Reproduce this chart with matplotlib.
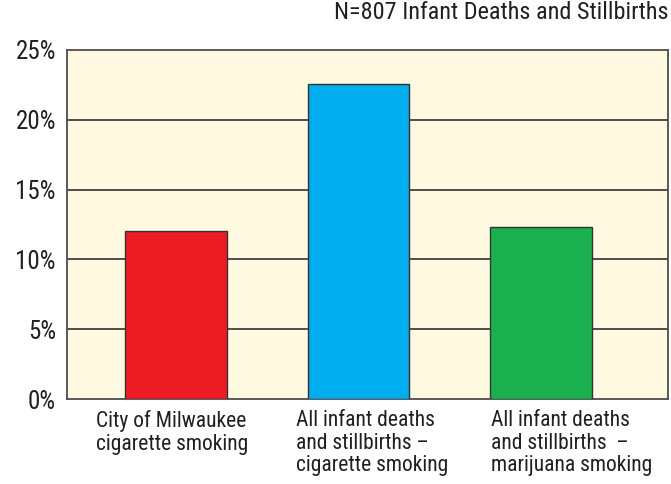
import matplotlib.pyplot as plt

plt.rcParams['font.family'] = ['Roboto Condensed', 'Archivo Narrow',
                               'Liberation Sans Narrow', 'DejaVu Sans']

categories = ['City of Milwaukee\ncigarette smoking',
              'All infant deaths\nand stillbirths \u2013\ncigarette smoking',
              'All infant deaths\nand stillbirths  \u2013\nmarijuana smoking']
percent = [12.0, 22.6, 12.3]
bar_colors = ['#ed1c24', '#00aeef', '#1bb04f']
yticks = [0, 5, 10, 15, 20, 25]
title = 'N=807 Infant Deaths and Stillbirths'

fig = plt.figure(figsize=(6.71, 4.84), dpi=100)
ax = fig.add_axes([0.0999, 0.1756, 0.8956, 0.7211])
ax.set_facecolor('#fef9e0')

x = list(range(len(percent)))
ax.bar(x, percent, width=0.555, color=bar_colors, edgecolor='#333333',
       linewidth=1.0, zorder=3)

ax.set_ylim(0, 25)
ax.set_xlim(-0.597, 2.696)
ax.set_yticks(yticks)
ax.set_yticklabels([f'{v}%' for v in yticks], fontsize=18, color='#231f20')
ax.tick_params(axis='y', length=0, pad=8)
ax.set_xticks([])
for v in yticks[1:-1]:
    ax.axhline(v, color='#231f20', lw=1.1, zorder=1)
for s in ax.spines.values():
    s.set_color('#4d4d4d')
    s.set_linewidth(1.3)

# category labels sit left-aligned under each bar
label_x = [-0.44, 0.658, 1.725]
for lx, lab in zip(label_x, categories):
    ax.text(lx, -0.8, lab, ha='left', va='top', fontsize=15.5,
            color='#231f20', linespacing=1.1)

fig.text(0.996, 0.997, title, ha='right', va='top', fontsize=17.5,
         color='#231f20')

fig.savefig('out.png', dpi=100)
